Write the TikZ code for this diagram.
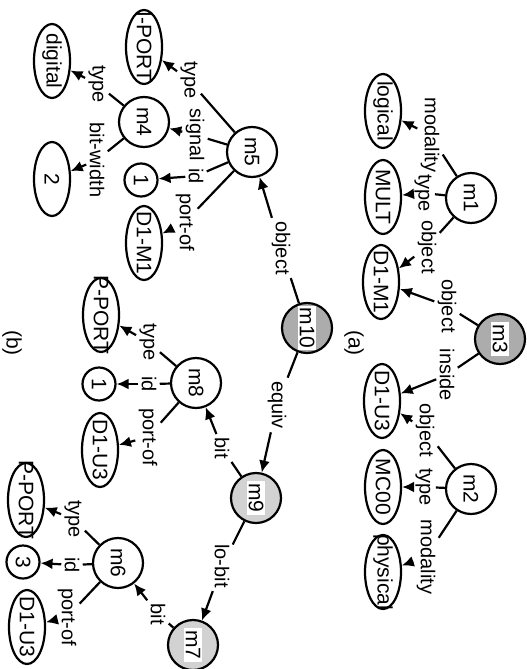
\documentclass[tikz,border=0pt]{standalone}
\usepackage{fontspec}
\setmainfont{Liberation Sans}
\usetikzlibrary{arrows.meta,shapes.geometric}
\newcommand{\tagbox}[1]{{\setlength{\fboxsep}{1pt}\colorbox{white}{#1}}}
\newcommand{\squeeze}[1]{\makebox[0pt]{#1}}

\begin{document}
\begin{tikzpicture}[
  x=0.5pt, y=-0.5pt,
  every node/.style={rotate=-90, font=\fontsize{10.5}{12}\selectfont},
  frame/.style={circle, draw, line width=1.1pt, minimum size=25pt, inner sep=0pt},
  darkframe/.style={frame, fill=gray!65},
  lightframe/.style={frame, fill=gray!35},
  val/.style={ellipse, draw, line width=1.1pt, minimum width=37pt, minimum height=18pt, inner sep=0pt},
  num/.style={circle, draw, line width=1.1pt, minimum size=16.5pt, inner sep=0pt},
  rel/.style={inner sep=1.5pt, font=\fontsize{10}{12}\selectfont},
  link/.style={line width=1.1pt},
  arrow/.style={link, -{Latex[length=6pt,width=5.5pt]}}
]
\useasboundingbox (0,0) rectangle (526,669);

% (a)
\node[frame] (m1) at (471,198) {m1};
\node[darkframe] (m3) at (500,339) {\tagbox{m3}};
\node[frame] (m2) at (471,489) {m2};
\node[val] (logical) at (383,111) {\squeeze{logical}};
\node[val] (mult) at (383,197) {\squeeze{MULT}};
\node[val] (dmA) at (381,282) {\squeeze{D1-M1}};
\node[val] (duA) at (382,401) {\squeeze{D1-U3}};
\node[val] (mcoo) at (383,487) {\squeeze{MC00}};
\node[val] (physical) at (383,572) {\squeeze{physical}};
\node (capA) at (354,343) {(a)};

\node[rel] (m1mod) at (430,135) {modality};
\node[rel] (m1typ) at (423,193) {type};
\node[rel] (m1obj) at (427,247) {object};
\node[rel] (m3obj) at (447,306) {object};
\node[rel] (m3ins) at (447,375) {inside};
\node[rel] (m2obj) at (425,430) {object};
\node[rel] (m2typ) at (424,487) {type};
\node[rel] (m2mod) at (426,557) {modality};

\draw[link] (m1) -- (m1mod); \draw[arrow] (m1mod) -- (logical);
\draw[link] (m1) -- (m1typ); \draw[arrow] (m1typ) -- (mult);
\draw[link] (m1) -- (m1obj); \draw[arrow] (m1obj) -- (dmA);
\draw[link] (m3) -- (m3obj); \draw[arrow] (m3obj) -- (dmA);
\draw[link] (m3) -- (m3ins); \draw[arrow] (m3ins) -- (duA);
\draw[link] (m2) -- (m2obj); \draw[arrow] (m2obj) -- (duA);
\draw[link] (m2) -- (m2typ); \draw[arrow] (m2typ) -- (mcoo);
\draw[link] (m2) -- (m2mod); \draw[arrow] (m2mod) -- (physical);

% (b)
\node[darkframe] (m10) at (307,328) {\tagbox{m10}};
\node[lightframe] (m9) at (256,498) {\tagbox{m9}};
\node[lightframe] (m7) at (193,645) {\tagbox{m7}};
\node[frame] (m5) at (252,152) {m5};
\node[frame] (m4) at (144,122) {m4};
\node[frame] (m8) at (196,383) {m8};
\node[frame] (m6) at (118,563) {m6};
\node[val] (iport) at (144,47) {\squeeze{I-PORT}};
\node[num] (oneA) at (141,180) {1};
\node[val] (dmB) at (144,243) {\squeeze{D1-M1}};
\node[val] (digital) at (52,61) {\squeeze{digital}};
\node[val] (two) at (52,179) {\squeeze{2}};
\node[val] (pportA) at (101,315) {\squeeze{P-PORT}};
\node[num] (oneB) at (99,384) {1};
\node[val] (duB) at (100,450) {\squeeze{D1-U3}};
\node[val] (pportB) at (26,500) {\squeeze{P-PORT}};
\node[num] (three) at (23,562) {3};
\node[val] (duC) at (27,627) {\squeeze{D1-U3}};
\node (capB) at (12,343) {(b)};

\node[rel] (m10obj) at (281,248) {object};
\node[rel] (m10eqv) at (277,405) {equiv};
\node[rel] (m5typ) at (189,80) {type};
\node[rel] (m5sig) at (195,135) {signal};
\node[rel] (m5id) at (196,176) {id};
\node[rel] (m5prt) at (185,222) {port-of};
\node[rel] (m4typ) at (97,84) {type};
\node[rel] (m4wid) at (97,160) {bit-width};
\node[rel] (m9bit) at (222,448) {bit};
\node[rel] (m9lob) at (222,566) {lo-bit};
\node[rel] (m7bit) at (158,614) {bit};
\node[rel] (m8typ) at (148,342) {type};
\node[rel] (m8id) at (149,384) {id};
\node[rel] (m8prt) at (148,437) {port-of};
\node[rel] (m6typ) at (73,519) {type};
\node[rel] (m6id) at (72,565) {id};
\node[rel] (m6prt) at (67,617) {port-of};

\draw[link] (m10) -- (m10obj); \draw[arrow] (m10obj) -- (m5);
\draw[link] (m10) -- (m10eqv); \draw[arrow] (m10eqv) -- (m9);
\draw[link] (m5) -- (m5typ); \draw[arrow] (m5typ) -- (iport);
\draw[link] (m5) -- (m5sig); \draw[arrow] (m5sig) -- (m4);
\draw[link] (m5) -- (m5id); \draw[arrow] (m5id) -- (oneA);
\draw[link] (m5) -- (m5prt); \draw[arrow] (m5prt) -- (dmB);
\draw[link] (m4) -- (m4typ); \draw[arrow] (m4typ) -- (digital);
\draw[link] (m4) -- (m4wid); \draw[arrow] (m4wid) -- (two);
\draw[link] (m9) -- (m9bit); \draw[arrow] (m9bit) -- (m8);
\draw[link] (m9) -- (m9lob); \draw[arrow] (m9lob) -- (m7);
\draw[link] (m7) -- (m7bit); \draw[arrow] (m7bit) -- (m6);
\draw[link] (m8) -- (m8typ); \draw[arrow] (m8typ) -- (pportA);
\draw[link] (m8) -- (m8id); \draw[arrow] (m8id) -- (oneB);
\draw[link] (m8) -- (m8prt); \draw[arrow] (m8prt) -- (duB);
\draw[link] (m6) -- (m6typ); \draw[arrow] (m6typ) -- (pportB);
\draw[link] (m6) -- (m6id); \draw[arrow] (m6id) -- (three);
\draw[link] (m6) -- (m6prt); \draw[arrow] (m6prt) -- (duC);
\end{tikzpicture}
\end{document}
